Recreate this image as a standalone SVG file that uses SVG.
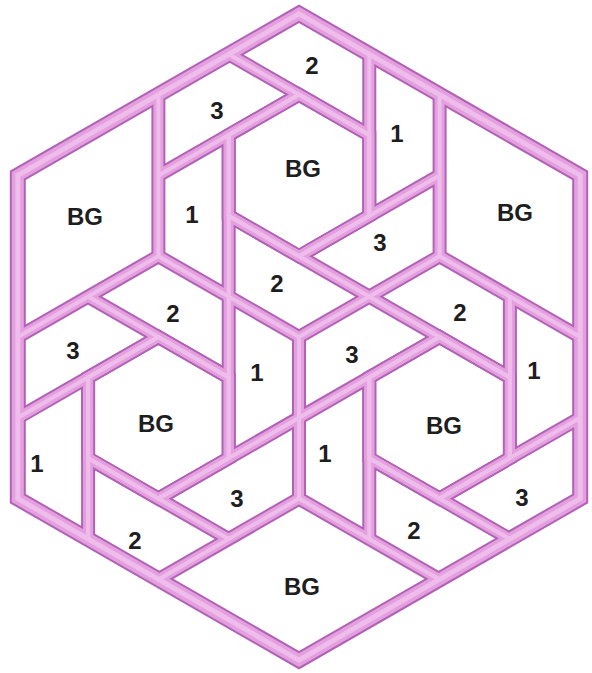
<svg xmlns="http://www.w3.org/2000/svg" xmlns:xlink="http://www.w3.org/1999/xlink" width="592" height="673" viewBox="0 0 592 673">
<style>
.edge{fill:none;stroke:#b262b6;stroke-linejoin:miter;stroke-linecap:butt}
.fill{fill:none;stroke:#e4a0de;stroke-linejoin:miter;stroke-linecap:butt}
.hl{fill:none;stroke:#efbdeb;stroke-linejoin:miter;stroke-linecap:butt}
.lbl{font-family:"Liberation Sans",Arial,sans-serif;font-weight:bold;font-size:24px;fill:#1e1e1e;text-anchor:middle}
</style>
<defs>
<path id="frame" d="M299,13.8 L580.2,175.4 L580.2,498.6 L299,660.2 L17.8,498.6 L17.8,175.4 Z"/>
<path id="hexes" d="M299,94.6 L369.3,135 L369.3,215.8 L299,256.2 L228.7,215.8 L228.7,135 Z
M439.6,337 L509.9,377.4 L509.9,458.2 L439.6,498.6 L369.3,458.2 L369.3,377.4 Z
M158.4,337 L228.7,377.4 L228.7,458.2 L158.4,498.6 L88.1,458.2 L88.1,377.4 Z"/>
<path id="lines" d="M228.7,215.8 L509.9,377.4
M439.6,337 L158.4,498.6
M228.7,458.2 L228.7,135
M158.4,175.4 L299,94.6
M509.9,296.6 L509.9,458.2
M88.1,458.2 L228.7,539
M228.7,54.2 L369.3,135
M580.2,417.8 L439.6,498.6
M88.1,377.4 L88.1,539
M369.3,54.2 L369.3,215.8
M509.9,539 L369.3,458.2
M17.8,417.8 L158.4,337
M299,256.2 L439.6,175.4
M369.3,377.4 L369.3,539
M88.1,296.6 L228.7,377.4
M158.4,94.6 L158.4,256.2 L17.8,337
M580.2,337 L439.6,256.2 L439.6,94.6
M158.4,579.4 L299,498.6 L439.6,579.4
M158.4,256.2 L299,337 L439.6,256.2
M299,337 L299,498.6"/>
</defs>
<rect width="592" height="673" fill="#ffffff"/>
<g id="pattern">
<g id="outline-layer">
<use xlink:href="#lines" class="edge" stroke-width="14"/>
<use xlink:href="#hexes" class="edge" stroke-width="14"/>
<use xlink:href="#frame" class="edge" stroke-width="16"/>
</g>
<g id="fill-layer">
<use xlink:href="#lines" class="fill" stroke-width="10"/>
<use xlink:href="#hexes" class="fill" stroke-width="10"/>
<use xlink:href="#frame" class="fill" stroke-width="12"/>
</g>
<g id="highlight-layer">
<use xlink:href="#lines" class="hl" stroke-width="4"/>
<use xlink:href="#hexes" class="hl" stroke-width="4"/>
<use xlink:href="#frame" class="hl" stroke-width="5"/>
</g>
</g>
<g id="labels">
<text class="lbl" x="312" y="74">2</text>
<text class="lbl" x="217" y="119">3</text>
<text class="lbl" x="397" y="142">1</text>
<text class="lbl" x="303" y="177">BG</text>
<text class="lbl" x="85" y="225">BG</text>
<text class="lbl" x="192" y="223">1</text>
<text class="lbl" x="515" y="221">BG</text>
<text class="lbl" x="380" y="251">3</text>
<text class="lbl" x="277" y="292">2</text>
<text class="lbl" x="173" y="322">2</text>
<text class="lbl" x="460" y="321">2</text>
<text class="lbl" x="73" y="359">3</text>
<text class="lbl" x="352" y="363">3</text>
<text class="lbl" x="257" y="381">1</text>
<text class="lbl" x="534" y="379">1</text>
<text class="lbl" x="156" y="432">BG</text>
<text class="lbl" x="444" y="434">BG</text>
<text class="lbl" x="37" y="472">1</text>
<text class="lbl" x="325" y="462">1</text>
<text class="lbl" x="237" y="507">3</text>
<text class="lbl" x="522" y="506">3</text>
<text class="lbl" x="135" y="549">2</text>
<text class="lbl" x="414" y="539">2</text>
<text class="lbl" x="302" y="595">BG</text>
</g>
</svg>
